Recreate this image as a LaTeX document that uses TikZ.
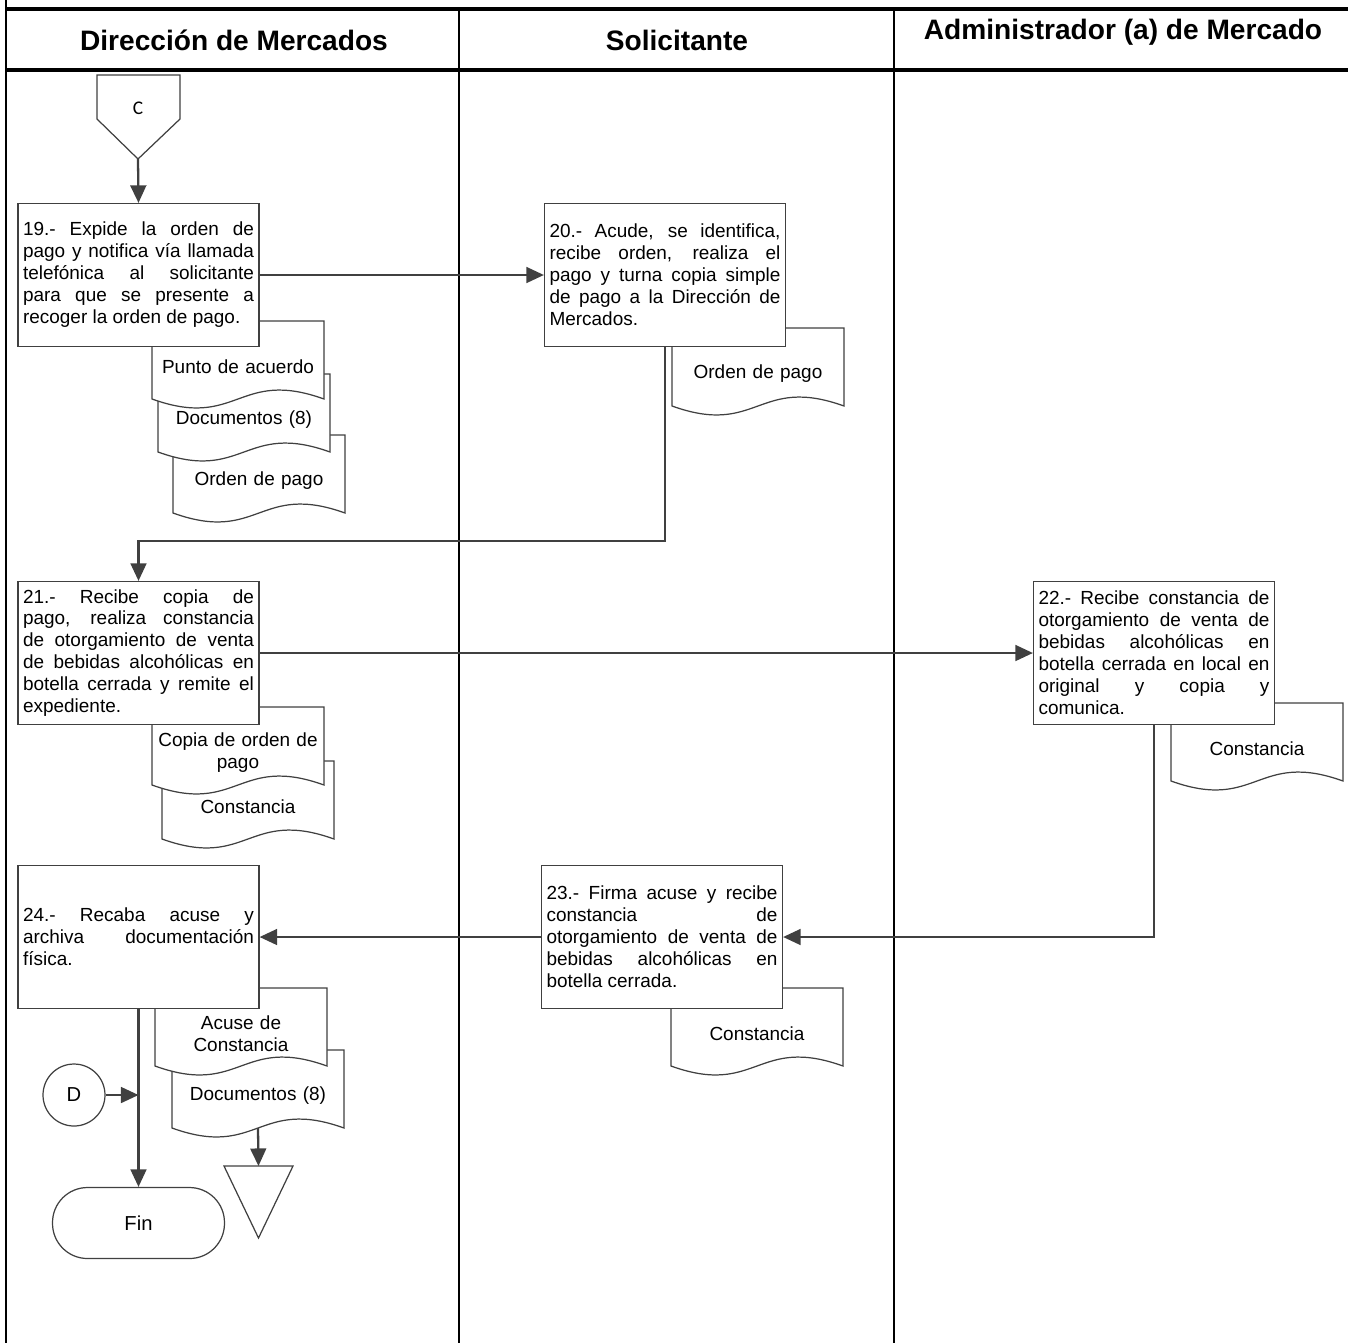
\documentclass[tikz,border=0pt]{standalone}
\usepackage{fontspec}
\setmainfont{Liberation Sans}
\newfontfamily\calibri{Carlito}
\usetikzlibrary{arrows.meta,positioning,calc}
\definecolor{linegray}{HTML}{404040}

% document symbol: outline with wavy bottom, then its text node
\newcommand{\docnode}[4]{%
  \draw[docline] (#2-86,#3+32) -- (#2-86,#3-46) -- (#2+86,#3-46) -- (#2+86,#3+32)
    .. controls (#2,#3+1) and (#2,#3+63) .. (#2-86,#3+32) -- cycle;
  \node[doctext] (#1) at (#2,#3) {#4};
  \coordinate (#1-b) at (#2,#3+32);}

\begin{document}
\begin{tikzpicture}[x=0.02cm, y=-0.02cm,
  box/.style={draw=linegray, fill=white, line width=0.7pt, minimum width=4.82cm, minimum height=2.86cm,
    text width=4.62cm, inner sep=0pt, align=justify, font=\fontsize{10.8}{12.5}\selectfont},
  doctext/.style={text width=3.3cm, align=center, inner sep=0pt, font=\fontsize{10.8}{12.5}\selectfont},
  docline/.style={draw=linegray, fill=white, line width=0.7pt},
  lane/.style={line width=1.1pt},
  head/.style={font=\fontsize{16}{18}\selectfont\bfseries},
  arr/.style={-{Triangle[length=10pt, width=9pt]}, color=linegray, line width=1.3pt}
]
  \useasboundingbox (0,0) rectangle (1348,1343);

  % Swimlanes
  \draw[lane] (6,0) -- (6,1343);
  \draw[line width=2pt] (6,9) -- (1348,9);
  \draw[line width=2pt] (6,70) -- (1348,70);
  \draw[lane] (459,9) -- (459,1343);
  \draw[lane] (894,9) -- (894,1343);
  \node[head] (hDir) at (234,40) {Dirección de Mercados};
  \node[head] (hSol) at (677,40) {Solicitante};
  \node[head] (hAdm) at (1123,32) {Administrador (a) de Mercado};

  % Connector C
  \draw[docline] (97,75) -- (180,75) -- (180,119) -- (138,159) -- (97,119) -- cycle;
  \node[font=\calibri\fontsize{11}{13}\selectfont] (conC) at (138,108) {C};
  \coordinate (conC-tip) at (138,159);

  % Step 19
  \docnode{dOrden1}{259}{481}{Orden de pago}
  \docnode{dDocs1}{244}{420}{Documentos (8)}
  \docnode{dPunto}{238}{367}{Punto de acuerdo}
  \node[box] (b19) at (138.5,275) {19.- Expide la orden de\linebreak
    pago y notifica vía llamada\linebreak
    telefónica al solicitante\linebreak
    para que se presente a\linebreak
    recoger la orden de pago.};

  % Step 20
  \docnode{dOrden2}{758}{374}{Orden de pago}
  \node[box] (b20) at (665,275) {20.- Acude, se identifica,\linebreak
    recibe orden, realiza el\linebreak
    pago y turna copia simple\linebreak
    de pago a la Dirección de\linebreak
    Mercados.};

  % Step 21
  \docnode{dConst1}{248}{807}{Constancia}
  \docnode{dCopia}{238}{753}{Copia de orden de\\pago}
  \node[box] (b21) at (138.5,653) {21.- Recibe copia de\linebreak
    pago, realiza constancia\linebreak
    de otorgamiento de venta\linebreak
    de bebidas alcohólicas en\linebreak
    botella cerrada y remite el\linebreak
    expediente.};

  % Step 22
  \docnode{dConst3}{1257}{749}{Constancia}
  \node[box] (b22) at (1154,653) {22.- Recibe constancia de\linebreak
    otorgamiento de venta de\linebreak
    bebidas alcohólicas en\linebreak
    botella cerrada en local en\linebreak
    original y copia y\linebreak
    comunica.};

  % Step 23
  \docnode{dConst2}{757}{1034}{Constancia}
  \node[box] (b23) at (662,937) {23.- Firma acuse y recibe\linebreak
    constancia de\linebreak
    otorgamiento de venta de\linebreak
    bebidas alcohólicas en\linebreak
    botella cerrada.};

  % Step 24
  \docnode{dDocs2}{258}{1096}{Documentos (8)}
  \docnode{dAcuse}{241}{1034}{Acuse de\\Constancia}
  \node[box] (b24) at (138.5,937) {24.- Recaba acuse y\linebreak
    archiva documentación\linebreak
    física.};

  % End, connector D and archive
  \node[draw=linegray, fill=white, line width=0.7pt, rounded corners=0.7cm, minimum width=3.44cm,
    minimum height=1.42cm, font=\fontsize{11.5}{13}\selectfont] (fin) at (138.5,1223) {Fin};
  \node[draw=linegray, fill=white, line width=0.7pt, circle, minimum size=1.24cm,
    font=\fontsize{11.5}{13}\selectfont] (conD) at (74,1095) {D};
  \coordinate (dJoin) at (138.5,1095);
  \draw[docline] (224,1166) -- (293,1166) -- (258.5,1238) -- cycle;
  \coordinate (triTop) at (258.5,1166);

  % Flow
  \draw[arr] (conC-tip) -- (b19.north);
  \draw[arr] (b19.east) -- (b20.west);
  \draw[arr] (b20.south) -- ++(0,194) -| (b21.north);
  \draw[arr] (b21.east) -- (b22.west);
  \draw[arr] (b22.south) |- (b23.east);
  \draw[arr] (b23.west) -- (b24.east);
  \draw[arr] (b24.south) -- (fin.north);
  \draw[arr] (conD) -- (dJoin);
  \draw[arr] (dDocs2-b) -- (triTop);
\end{tikzpicture}
\end{document}
